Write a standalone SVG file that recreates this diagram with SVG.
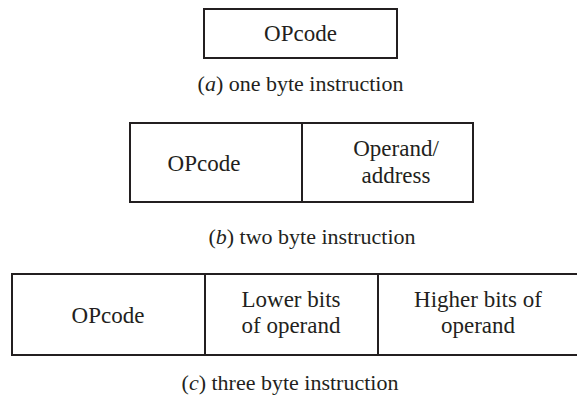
<svg xmlns="http://www.w3.org/2000/svg" width="577" height="398" viewBox="0 0 577 398">
<style>
rect.b{fill:#fff;stroke:#231f20;stroke-width:2}
line.d{stroke:#231f20;stroke-width:2}
text{fill:#231f20;text-anchor:middle}
</style>
<rect width="577" height="398" fill="#fff"/>
<g id="a">
<rect class="b" x="204" y="9" width="193" height="49"/>
<text x="300.5" y="41" style="font-family:'Liberation Serif','Times New Roman',serif;font-size:23px">OPcode</text>
<text x="300.5" y="91" style="font-family:'Liberation Serif','Times New Roman',serif;font-size:22px">(<tspan font-style="italic">a</tspan>) one byte instruction</text>
</g>
<g id="b">
<rect class="b" x="130" y="123" width="343" height="79"/>
<line class="d" x1="302" y1="123" x2="302" y2="202"/>
<text x="204" y="171" style="font-family:'Liberation Serif','Times New Roman',serif;font-size:23px">OPcode</text>
<text x="396" y="156" style="font-family:'Liberation Serif','Times New Roman',serif;font-size:23px">Operand/</text>
<text x="396" y="183" style="font-family:'Liberation Serif','Times New Roman',serif;font-size:23px">address</text>
<text x="312" y="244" style="font-family:'Liberation Serif','Times New Roman',serif;font-size:22px">(<tspan font-style="italic">b</tspan>) two byte instruction</text>
</g>
<g id="c">
<rect class="b" x="12" y="274" width="570" height="81"/>
<line class="d" x1="205" y1="274" x2="205" y2="355"/>
<line class="d" x1="378" y1="274" x2="378" y2="355"/>
<text x="108" y="323" style="font-family:'Liberation Serif','Times New Roman',serif;font-size:23px">OPcode</text>
<text x="291" y="307" style="font-family:'Liberation Serif','Times New Roman',serif;font-size:23px">Lower bits</text>
<text x="291" y="333" style="font-family:'Liberation Serif','Times New Roman',serif;font-size:23px">of operand</text>
<text x="478" y="307" style="font-family:'Liberation Serif','Times New Roman',serif;font-size:23px">Higher bits of</text>
<text x="478" y="333" style="font-family:'Liberation Serif','Times New Roman',serif;font-size:23px">operand</text>
<text x="290" y="390" style="font-family:'Liberation Serif','Times New Roman',serif;font-size:22px">(<tspan font-style="italic">c</tspan>) three byte instruction</text>
</g>
<g id="connectors"/>
</svg>
